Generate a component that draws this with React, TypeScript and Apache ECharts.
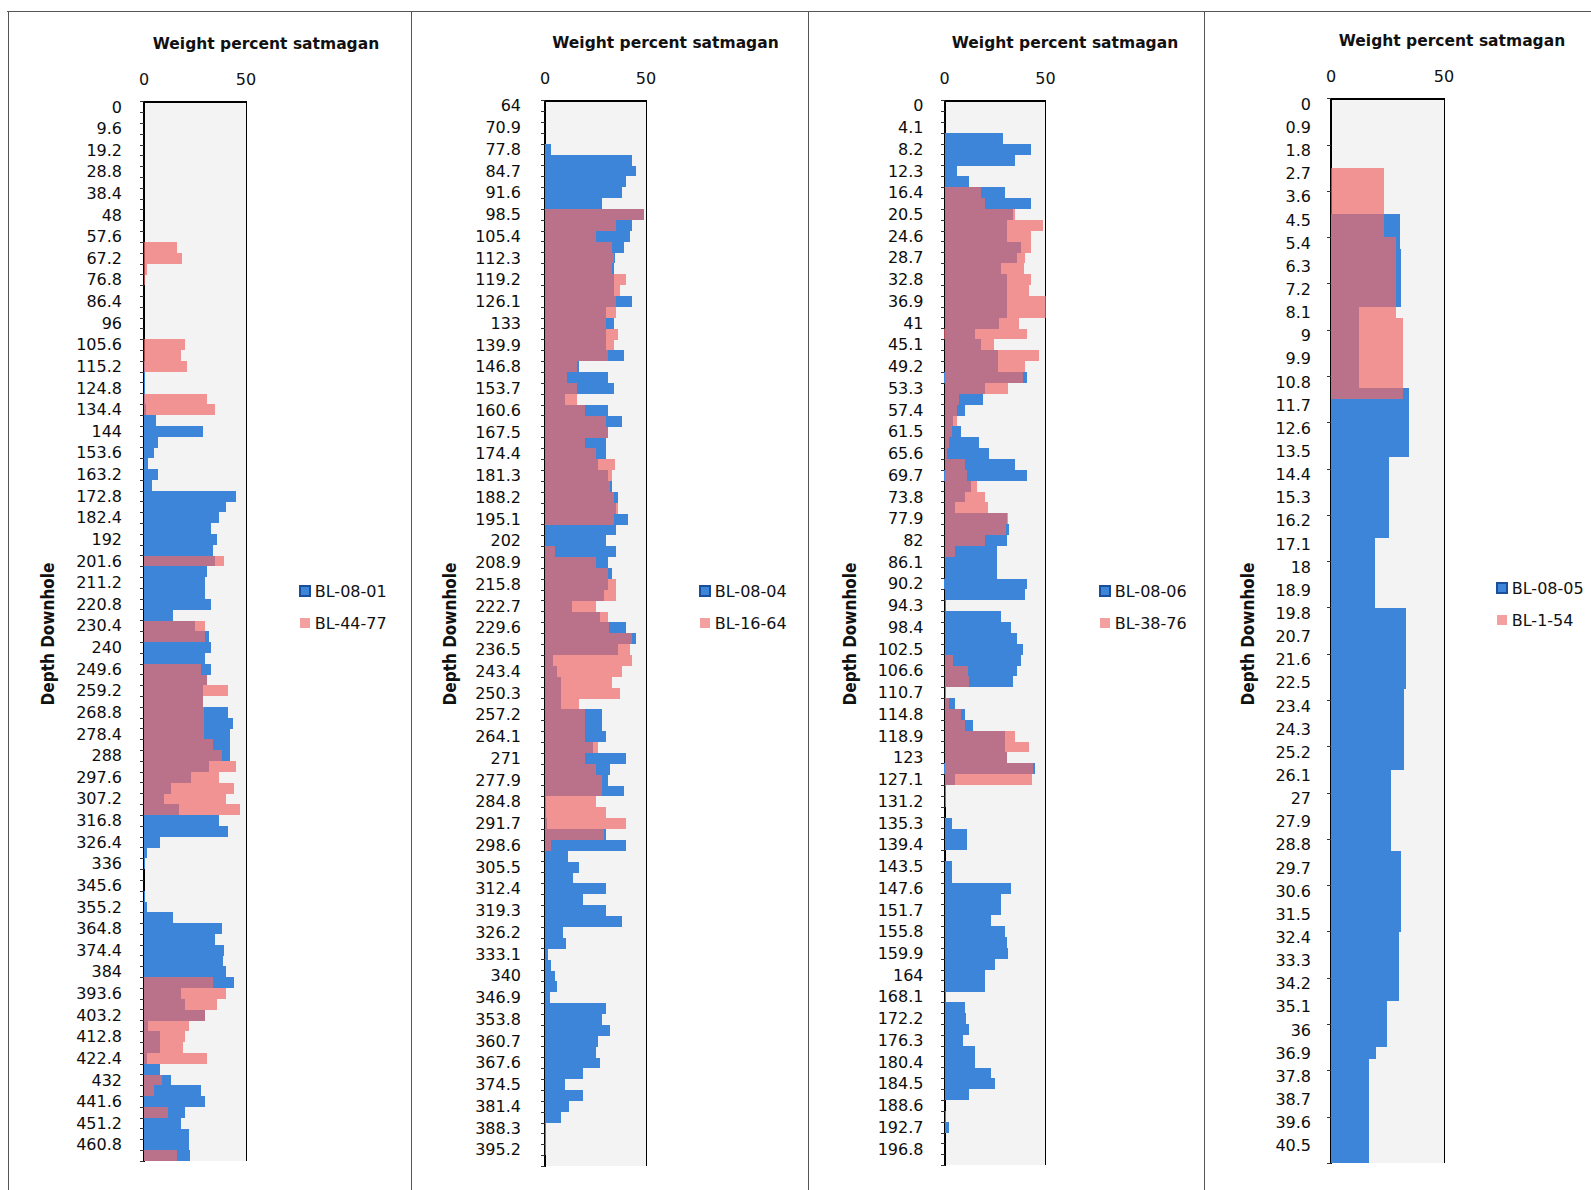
import React, { useEffect, useRef } from "react";
import * as echarts from "echarts";

// ---- Tick labels (depth downhole) ----
const P1_LABELS = ["0","9.6","19.2","28.8","38.4","48","57.6","67.2","76.8","86.4","96","105.6","115.2","124.8","134.4","144","153.6","163.2","172.8","182.4","192","201.6","211.2","220.8","230.4","240","249.6","259.2","268.8","278.4","288","297.6","307.2","316.8","326.4","336","345.6","355.2","364.8","374.4","384","393.6","403.2","412.8","422.4","432","441.6","451.2","460.8"];
const P2_LABELS = ["64","70.9","77.8","84.7","91.6","98.5","105.4","112.3","119.2","126.1","133","139.9","146.8","153.7","160.6","167.5","174.4","181.3","188.2","195.1","202","208.9","215.8","222.7","229.6","236.5","243.4","250.3","257.2","264.1","271","277.9","284.8","291.7","298.6","305.5","312.4","319.3","326.2","333.1","340","346.9","353.8","360.7","367.6","374.5","381.4","388.3","395.2"];
const P3_LABELS = ["0","4.1","8.2","12.3","16.4","20.5","24.6","28.7","32.8","36.9","41","45.1","49.2","53.3","57.4","61.5","65.6","69.7","73.8","77.9","82","86.1","90.2","94.3","98.4","102.5","106.6","110.7","114.8","118.9","123","127.1","131.2","135.3","139.4","143.5","147.6","151.7","155.8","159.9","164","168.1","172.2","176.3","180.4","184.5","188.6","192.7","196.8"];
const P4_LABELS = ["0","0.9","1.8","2.7","3.6","4.5","5.4","6.3","7.2","8.1","9","9.9","10.8","11.7","12.6","13.5","14.4","15.3","16.2","17.1","18","18.9","19.8","20.7","21.6","22.5","23.4","24.3","25.2","26.1","27","27.9","28.8","29.7","30.6","31.5","32.4","33.3","34.2","35.1","36","36.9","37.8","38.7","39.6","40.5"];

// half of the label step: one unlabeled category between two labels
const P1_HALF = 4.8;
const P2_HALF = 3.45;
const P3_HALF = 2.05;
const P4_HALF = 0.45;

// ---- Series names ----
const P1_NAMES = ["BL-08-01", "BL-44-77"];
const P2_NAMES = ["BL-08-04", "BL-16-64"];
const P3_NAMES = ["BL-08-06", "BL-38-76"];
const P4_NAMES = ["BL-08-05", "BL-1-54"];

// ---- Weight percent satmagan values (one per category) ----
const P1_BLUE = [
  0,0,0,0,0,0,0,0,0,0,
  0,0,0,0,0,0,0,0,0,0,
  0,0,0,0,0.5,0.5,0.5,0.5,1,6,
  29,7,5,2,7,4,45,40,37,33,
  36,34,35,31,30,30,33,14,25,32,
  33,30,33,31,29,29,41,43.5,42,42,
  42,32,23,13,10,17,37,41,8,1.5,
  0.3,0.2,0.2,0.5,1.5,14,38,35,39,38.5,
  40,44,18,20,30,2,8,8,1.5,8,
  13,28,30,20,18,22,22,22.6
];
const P1_PINK = [
  0,0,0,0,0,0,0,0,0,0,
  0,0,0,16,18.5,1.5,0.5,0,0,0,
  0,0,20,18,21,0,0,31,35,0,
  0,0,0,0,0,0,0,0,0,0,
  0,0,39,0,0,0,0,0,30,30,
  0,0,28,31,41,29,29.5,29.5,29.5,34,
  38,45,37,44,40,47,0,0,0,0,
  0,0,0,0,0,0,0,0,0,0,
  0,34,40,36,30,22,20,19,31,0,
  9,5,0,12,0,0,0,16
];
const P2_BLUE = [
  0,0,0,0,3,43,45,40,38,28,
  49,43,42,39,34.6,34,34,34,43,30,
  34,30,30,39,17,31,34,10,31,38,
  31,30,30,26,31,33,36,35,41,35,
  30,35,31,33,31,29,13.5,27,40,45,
  36,4,6,8,8,8,28,28,30,24,
  40,32,31,39,0.5,0.5,1,30,40,11.5,
  17,14,30,19,30,38,9,10.5,1.5,3,
  5,6,2.5,30,28,32,26,25.3,27,19,
  10,19,12,8,0.7,0.5,0.3,0.2
];
const P2_PINK = [
  0,0,0,0,0,0,0,0,0,0,
  49,35,25,33,34,33,40,37,35,35,
  30,36,34,31,16,11,16,16,20,30,
  31,20,25,34.6,33,32,34,36,34,0,
  0,5,25,31,35,35,25,31,31.6,43,
  42,43,38,33,37,17,20,20,20,26,
  20,25,28,28,25,30,40,29,3,0,
  0,0,0,0,0,0,0,0,0,0,
  0,0,0,0,0,0,0,0,0,0,
  0,0,0,0,0,0,0,0
];
const P3_BLUE = [
  0,0,0,29,43,35,6,12,30,43,
  34,31,31,38,36,28,31,31,31,31,
  27,15,18,26.5,26.5,40.6,20,19,10,4,
  8,17,22,35,40.6,13,10,5,31,32,
  31,26,26,26,40.6,40,0.5,28,33,36,
  39,38,36,34,0.5,5,10,14,30,30,
  30.8,44.7,5,0.8,0.5,0.3,3.6,11,11,0,
  3.6,3.6,33,28,28,23,30,31,31.5,25,
  20,20,0.5,10,10.5,12.3,9,15,15,23,
  25,12,0.3,0.5,2,0.3,0.3,0.2
];
const P3_PINK = [
  0,0,0,0,0,0,0,0,18,20,
  35,49,43,43,40,39.4,43,42,50,50,
  37,41,24.5,46.7,40,39,31.5,7,6,6,
  3.5,2,1,10,11,16,20,21.5,31.5,30.6,
  20,5,0,0,0,0,0,0,0,0,
  0,4.4,11.8,12,0.5,2,8,10,35,41.8,
  30.8,44,43.4,0,0,0,0,0,0,0,
  0,0,0,0,0,0,0,0,0,0,
  0,0,0,0,0,0,0,0,0,0,
  0,0,0,0,0,0,0,0
];
const P4_BLUE = [
  0,0,0,0,0,0,0,0,0,0,
  30.7,30.7,30.7,31,31,31,31,31,12.6,12.6,
  12.6,12.6,12.6,12.6,12.6,34.7,34.7,34.7,34.7,34.7,
  34.7,25.5,25.5,25.5,25.5,25.5,25.5,25.5,19.6,19.6,
  19.6,19.6,19.6,19.6,33.3,33.3,33.3,33.3,33.3,33.3,
  33.3,32.5,32.5,32.5,32.5,32.5,32.5,32.5,26.6,26.6,
  26.6,26.6,26.6,26.6,26.6,30.8,30.8,30.8,30.8,30.8,
  30.8,30.8,30.3,30.3,30.3,30.3,30.3,30.3,24.7,24.7,
  24.7,24.7,20,17,17,17,17,17,17,17,
  17,17
];
const P4_PINK = [
  0,0,0,0,0,0,23.6,23.6,23.6,23.6,
  23.6,23.6,28.8,28.8,28.8,28.8,28.8,28.8,28.8,31.9,
  31.9,31.9,31.9,31.9,31.9,31.9,0,0,0,0,
  0,0,0,0,0,0,0,0,0,0,
  0,0,0,0,0,0,0,0,0,0,
  0,0,0,0,0,0,0,0,0,0,
  0,0,0,0,0,0,0,0,0,0,
  0,0,0,0,0,0,0,0,0,0,
  0,0,0,0,0,0,0,0,0,0,
  0,0
];

const FONT = "'DejaVu Sans', Verdana, sans-serif";
const NARROW = "'Liberation Sans Narrow', 'DejaVu Sans Condensed', sans-serif";
const BLUE = "#3d85d8";
const BLUE_EDGE = "#1b4f9c";
const PINK = "rgba(240,105,105,0.7)";
const PINK_LEGEND = "#f4a0a0";

function buildCategories(labels: string[], half: number): string[] {
  const out: string[] = [];
  labels.forEach((l) => {
    out.push(l);
    out.push(String(Number((parseFloat(l) + half).toFixed(3))));
  });
  return out;
}

export default function App() {
  const ref = useRef<HTMLDivElement>(null);

  useEffect(() => {
    if (!ref.current) return;
    const chart = echarts.init(ref.current, undefined, { renderer: "svg" });

    const panels = [
      { labels: P1_LABELS, half: P1_HALF, blue: P1_BLUE, pink: P1_PINK, names: P1_NAMES,
        grid: { left: 144, top: 101.6, width: 102, height: 1059.5 }, margin: 22, tick: 0,
        titleX: 266, titleY: 43.5, nameX: 48, legendLeft: 294, legendTop: 578 },
      { labels: P2_LABELS, half: P2_HALF, blue: P2_BLUE, pink: P2_PINK, names: P2_NAMES,
        grid: { left: 545, top: 100.3, width: 101, height: 1066 }, margin: 24, tick: 0,
        titleX: 665.5, titleY: 43, nameX: 449.5, legendLeft: 694, legendTop: 578 },
      { labels: P3_LABELS, half: P3_HALF, blue: P3_BLUE, pink: P3_PINK, names: P3_NAMES,
        grid: { left: 944.5, top: 100.4, width: 101, height: 1065 }, margin: 21, tick: 0,
        titleX: 1065, titleY: 43, nameX: 850, legendLeft: 1094, legendTop: 578 },
      { labels: P4_LABELS, half: P4_HALF, blue: P4_BLUE, pink: P4_PINK, names: P4_NAMES,
        grid: { left: 1331, top: 98.6, width: 113, height: 1064.5 }, margin: 20, tick: 3,
        titleX: 1452, titleY: 41, nameX: 1248, legendLeft: 1491, legendTop: 575 },
    ];

    const grids: any[] = [];
    const xAxes: any[] = [];
    const yAxes: any[] = [];
    const series: any[] = [];
    const legends: any[] = [];
    const graphics: any[] = [];

    panels.forEach((p, i) => {
      grids.push({ ...p.grid, show: true, backgroundColor: "#f3f3f3", borderWidth: 0 });
      xAxes.push({
        type: "value", gridIndex: i, position: "top", min: 0, max: 50, interval: 50,
        axisLine: { show: true, lineStyle: { color: "#000", width: 1.5 } },
        axisTick: { show: false },
        axisLabel: { fontSize: 16, color: "#111", margin: 14, fontFamily: FONT },
        splitLine: { show: true, lineStyle: { color: "#000", width: 1.2 } },
      });
      yAxes.push({
        type: "category", gridIndex: i, inverse: true,
        data: buildCategories(p.labels, p.half),
        axisLine: { show: true, lineStyle: { color: "#000", width: 1.5 } },
        axisTick: { show: true, interval: p.tick, length: 4, lineStyle: { color: "#333" } },
        axisLabel: { interval: 1, fontSize: 16, color: "#0d0d0d", margin: p.margin, fontFamily: FONT },
      });
      series.push({
        type: "bar", name: p.names[0], xAxisIndex: i, yAxisIndex: i, data: p.blue,
        barCategoryGap: "0%", barGap: "-100%", itemStyle: { color: BLUE }, z: 2,
      });
      series.push({
        type: "bar", name: p.names[1], xAxisIndex: i, yAxisIndex: i, data: p.pink,
        barCategoryGap: "0%", barGap: "-100%", itemStyle: { color: PINK }, z: 3,
      });
      legends.push({
        orient: "vertical", left: p.legendLeft, top: p.legendTop,
        itemWidth: 10, itemHeight: 10, itemGap: 16, icon: "rect", selectedMode: false,
        textStyle: { fontSize: 16, color: "#111", fontFamily: FONT },
        data: [
          { name: p.names[0], itemStyle: { color: BLUE, borderColor: BLUE_EDGE, borderWidth: 1.5 } },
          { name: p.names[1], itemStyle: { color: PINK_LEGEND } },
        ],
      });
      graphics.push({
        type: "text", x: p.titleX, y: p.titleY,
        style: { text: "Weight percent satmagan", align: "center", verticalAlign: "middle",
          font: `bold 15.5px ${FONT}`, fill: "#111" },
      });
      graphics.push({
        type: "text", x: p.nameX, y: 634, rotation: Math.PI / 2,
        style: { text: "Depth Downhole", align: "center", verticalAlign: "middle",
          font: `bold 17px ${NARROW}`, fill: "#111" },
      });
    });

    // frame lines of the scanned page
    const frame = { stroke: "#555", lineWidth: 1 };
    graphics.push({ type: "line", shape: { x1: 7, y1: 11, x2: 1591, y2: 11 }, style: frame });
    graphics.push({ type: "line", shape: { x1: 8, y1: 11, x2: 8, y2: 1190 }, style: frame });
    [411, 808.5, 1204.5].forEach((x) => {
      graphics.push({ type: "line", shape: { x1: x, y1: 11, x2: x, y2: 1190 }, style: frame });
    });

    chart.setOption({
      animation: false,
      backgroundColor: "#ffffff",
      grid: grids,
      xAxis: xAxes,
      yAxis: yAxes,
      series,
      legend: legends,
      graphic: graphics,
    });

    return () => chart.dispose();
  }, []);

  return (
    <>
      <style>{`.satmagan-chart svg path { shape-rendering: crispEdges; }`}</style>
      <div
        ref={ref}
        className="satmagan-chart"
        style={{ position: "absolute", left: 0, top: 0, width: 1591, height: 1190, background: "#fff" }}
      />
    </>
  );
}
